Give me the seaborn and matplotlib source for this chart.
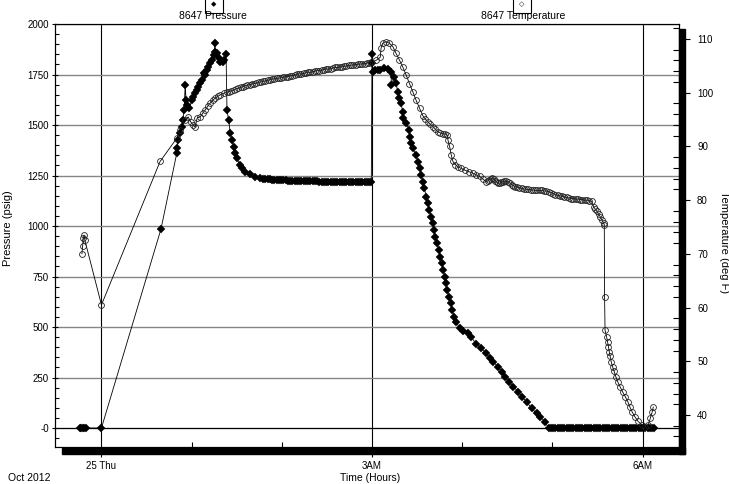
import matplotlib
matplotlib.use("Agg")
import matplotlib.pyplot as plt
from matplotlib.patches import Rectangle
from matplotlib.ticker import MultipleLocator
import seaborn as sns

# 8647 pressure / temperature log, Oct 25 2012 (time in minutes after midnight)
press_min = [-14.5, -13.5, -12.5, -11.5, -10.5, 0.0, 39.6,
             50.1, 50.1, 51.2, 52.3, 53.5, 54.1, 55.0, 55.7, 56.3, 57.2, 58.5, 60.1, 61.2,
             62.3, 63.5, 64.5, 65.7, 66.8, 67.9, 69.0, 70.2, 71.2, 72.4, 73.5, 74.6, 75.7,
             75.7, 76.8, 77.9, 79.0, 80.9, 81.7, 82.9,
             83.5, 84.6, 85.7, 86.9, 87.9, 89.1, 90.2, 91.9, 93.5, 95.8, 99.1, 102.4, 105.8,
             107.5, 109.0, 110.5, 112.0, 113.5, 115.0, 116.5, 118.0, 119.5, 121.0,
             122.5, 124.0, 125.5, 127.0, 128.5, 130.0, 131.5, 133.0, 134.5, 136.0,
             137.5, 139.0, 140.5, 142.0, 143.5, 145.0, 146.5, 148.0, 149.5, 151.0,
             152.5, 154.0, 155.5, 157.0, 158.5, 160.0, 161.5, 163.0, 164.5, 166.0,
             167.5, 169.0, 170.5, 172.0, 173.5, 175.0, 176.5, 178.0, 179.5,
             180.0, 180.2, 180.5, 182.3, 184.0, 185.6, 188.2, 190.4, 192.6, 192.9, 194.9,
             196.0, 197.1, 198.2, 199.3, 200.4, 200.5, 202.7, 204.9, 205.0, 206.0, 207.1,
             209.3, 210.5, 211.6, 212.7, 213.8, 214.9, 216.0, 217.2, 218.2, 219.4, 220.5,
             221.2, 222.0, 223.4, 224.3, 225.4, 226.5, 227.4, 228.3, 229.2, 230.1, 231.0,
             232.3, 233.2, 234.6, 236.1, 238.3, 240.6, 243.9, 246.1, 249.4, 252.8, 256.1,
             258.3, 260.6, 263.9, 266.2, 268.3, 271.0, 274.0, 277.3, 279.5, 282.8, 286.2,
             289.5, 291.7, 295.1, 297.4,
             298.9, 300.4, 301.9, 303.4, 304.9, 306.4, 307.9, 309.4, 310.9, 312.4,
             313.9, 315.4, 316.9, 318.4, 319.9, 321.4, 322.9, 324.4, 325.9, 327.4,
             328.9, 330.4, 331.9, 333.4, 334.9, 336.4, 337.9, 339.4, 340.9, 342.4,
             343.9, 345.4, 346.9, 348.4, 349.9, 351.4, 352.9, 354.4, 355.9, 357.4,
             358.9, 360.4, 361.9, 363.4, 364.9, 366.4, 367.9]
press_psig = [0, 0, 0, 0, 0, 0, 985,
              1360, 1384, 1426, 1459, 1492, 1525, 1574, 1698, 1624, 1599, 1582, 1624, 1640,
              1657, 1673, 1690, 1706, 1723, 1756, 1747, 1772, 1789, 1805, 1822, 1846, 1907,
              1863, 1855, 1830, 1813, 1813, 1822, 1850,
              1574, 1525, 1459, 1426, 1392, 1360, 1335, 1302, 1285, 1269, 1257, 1244, 1236,
              1234, 1233, 1232, 1231, 1230, 1229, 1228, 1228, 1227, 1226,
              1226, 1225, 1225, 1224, 1224, 1223, 1223, 1223, 1222, 1222,
              1222, 1221, 1221, 1221, 1221, 1220, 1220, 1220, 1220, 1220,
              1219, 1219, 1219, 1219, 1219, 1219, 1219, 1218, 1218, 1218,
              1218, 1218, 1218, 1218, 1218, 1218, 1218, 1218, 1218,
              1851, 1805, 1764, 1772, 1770, 1772, 1780, 1775, 1764, 1698, 1739,
              1706, 1665, 1632, 1607, 1566, 1533, 1508, 1475, 1442, 1409, 1384,
              1351, 1318, 1285, 1252, 1219, 1186, 1145, 1112, 1079, 1046, 1013,
              980, 947, 914, 881, 848, 815, 782, 749, 716, 683, 650,
              617, 584, 551, 526, 493, 482, 469, 449, 416, 394, 370,
              345, 328, 303, 279, 254, 229, 204, 180, 155, 130, 97,
              73, 56, 31, 0,
              0, 0, 0, 0, 0, 0, 0, 0, 0, 0,
              0, 0, 0, 0, 0, 0, 0, 0, 0, 0,
              0, 0, 0, 0, 0, 0, 0, 0, 0, 0,
              0, 0, 0, 0, 0, 0, 0, 0, 0, 0,
              0, 0, 0, 0, 0, 0, 0]

temp_min = [-13.0, -12.5, -12.0, -11.5, -11.0, 0.0, 39.0,
            50.3, 52.3, 55.7, 57.7, 59.3, 61.0, 62.3, 63.7, 65.7, 67.4, 69.0, 70.7, 72.4,
            74.0, 75.7, 77.4, 79.0, 81.4, 83.7,
            85.0, 86.5, 88.0, 89.5, 91.0, 92.5, 94.0, 95.5, 97.0, 98.5,
            100.0, 101.5, 103.0, 104.5, 106.0, 107.5, 109.0, 110.5, 112.0, 113.5,
            115.0, 116.5, 118.0, 119.5, 121.0, 122.5, 124.0, 125.5, 127.0, 128.5,
            130.0, 131.5, 133.0, 134.5, 136.0, 137.5, 139.0, 140.5, 142.0, 143.5,
            145.0, 146.5, 148.0, 149.5, 151.0, 152.5, 154.0, 155.5, 157.0, 158.5,
            160.0, 161.5, 163.0, 164.5, 166.0, 167.5, 169.0, 170.5, 172.0, 173.5,
            175.0, 176.5, 178.0, 179.5,
            182.6, 185.5, 186.0, 187.1, 189.3, 191.6, 193.8, 196.0, 198.2, 200.4, 202.7,
            204.9, 207.1, 209.3, 211.6, 213.8, 215.4, 217.1, 218.8, 220.5, 222.2, 223.8,
            225.5, 227.2, 228.7, 230.1, 230.5, 231.6, 232.7, 233.8, 235.5, 237.2, 239.4,
            241.6, 244.4, 247.2, 249.4, 251.6, 253.8,
            256.1, 257.0, 258.0, 259.0, 260.0, 261.0, 262.0, 263.0, 264.0, 265.0,
            266.0, 267.0, 268.0, 269.2, 270.5, 271.8, 273.0, 274.0, 275.0, 276.5,
            278.0, 279.5, 281.0, 282.5, 284.0, 285.5, 287.0, 288.5, 290.0, 291.5,
            293.0, 294.5, 296.0, 297.5, 299.0, 300.5, 302.0, 303.5, 305.0, 306.5,
            308.0, 309.5, 311.0, 312.5, 314.0, 315.5, 317.0, 318.5, 320.0, 321.5,
            323.0, 324.5, 326.0,
            327.4, 328.5, 329.6, 330.7, 331.8, 333.0, 334.1, 334.5,
            334.7, 335.0, 336.0, 336.7, 337.3, 337.8, 338.4, 339.1, 340.0, 341.1, 342.2,
            343.4, 344.9, 346.7, 348.5, 350.1, 351.5, 353.0, 354.8, 357.0, 359.7, 361.7,
            363.7, 365.1, 366.4, 367.1]
temp_degf = [70.0, 71.5, 73.0, 73.5, 72.5, 60.5, 87.2,
             91.6, 93.1, 94.9, 95.5, 94.6, 94.0, 93.6, 95.3, 95.5, 96.2, 96.8, 97.5, 98.1,
             98.6, 99.0, 99.3, 99.6, 99.9, 100.1,
             100.2, 100.4, 100.5, 100.7, 100.8, 101.0, 101.1, 101.3, 101.4, 101.5,
             101.6, 101.7, 101.8, 101.9, 102.0, 102.1, 102.2, 102.3, 102.4, 102.5,
             102.6, 102.7, 102.7, 102.8, 102.9, 103.0, 103.0, 103.1, 103.2, 103.3,
             103.4, 103.5, 103.5, 103.6, 103.7, 103.8, 103.8, 103.9, 104.0, 104.1,
             104.1, 104.2, 104.3, 104.4, 104.4, 104.5, 104.6, 104.7, 104.7, 104.8,
             104.8, 104.9, 105.0, 105.1, 105.1, 105.2, 105.2, 105.3, 105.3, 105.4,
             105.4, 105.5, 105.6, 105.7,
             106.0, 106.6, 108.3, 109.2, 109.5, 109.2, 108.6, 107.3, 106.1, 104.8, 103.3,
             101.7, 100.2, 98.6, 97.1, 95.7, 95.1, 94.6, 94.1, 93.7, 93.2, 92.7,
             92.5, 92.4, 92.3, 92.1, 91.2, 90.0, 88.4, 87.2, 86.6, 86.2, 85.9,
             85.6, 85.3, 85.0, 84.7, 84.4, 83.9,
             83.4, 83.6, 83.8, 84.0, 84.1, 83.9, 83.6, 83.3, 83.1, 83.2,
             83.3, 83.4, 83.5, 83.5, 83.4, 83.2, 82.9, 82.7, 82.5, 82.4,
             82.3, 82.2, 82.1, 82.0, 82.0, 81.9, 81.9, 81.8, 81.8, 81.8,
             81.8, 81.7, 81.7, 81.6, 81.4, 81.2, 81.0, 80.9, 80.8, 80.7,
             80.6, 80.5, 80.4, 80.3, 80.3, 80.2, 80.2, 80.1, 80.1, 80.0,
             80.0, 79.9, 79.8,
             78.8, 78.3, 77.9, 77.4, 76.9, 76.3, 75.7, 75.4,
             62.0, 55.8, 54.6, 53.6, 52.7, 51.8, 50.9, 49.9, 49.0, 48.1, 47.1,
             46.2, 45.3, 44.3, 43.4, 42.5, 41.5, 40.6, 39.7, 38.8, 38.1, 37.8,
             38.1, 39.4, 40.6, 41.5]

x_ticks = [0, 180, 360]
x_labels = ["25 Thu", "3AM", "6AM"]
p_ticks = [0, 250, 500, 750, 1000, 1250, 1500, 1750, 2000]
p_labels = ["-0", "250", "500", "750", "1000", "1250", "1500", "1750", "2000"]
t_ticks = [40, 50, 60, 70, 80, 90, 100, 110]

sns.set_style("ticks", {"axes.edgecolor": "black", "xtick.color": "black",
                        "ytick.color": "black", "text.color": "black"})
plt.rcParams["font.family"] = ["Liberation Sans Narrow", "Liberation Sans", "DejaVu Sans"]
plt.rcParams["font.size"] = 7

W, H = 729, 484
fig = plt.figure(figsize=(7.29, 4.84), dpi=100)
ax = fig.add_axes([55 / W, 37 / H, 624 / W, 423 / H])
ax2 = ax.twinx()

sns.lineplot(x=press_min, y=press_psig, ax=ax, sort=False, estimator=None,
             color="black", linewidth=0.6, marker="D", markersize=4,
             markeredgecolor="black", markerfacecolor="black", markeredgewidth=0.3)
sns.lineplot(x=temp_min, y=temp_degf, ax=ax2, sort=False, estimator=None,
             color="black", linewidth=0.6, marker="o", markersize=4.2,
             markeredgecolor="#222222", markerfacecolor="none", markeredgewidth=0.6)
ax2.lines[-1].set_markerfacecolor("none")

ax.set_xlim(-30.9, 384.2)
ax.set_ylim(-94, 2000)
ax2.set_ylim(34.04, 112.79)

ax.set_xticks(x_ticks)
ax.set_xticklabels(x_labels)
ax.set_xticks([60, 120, 240, 300], minor=True)
ax.set_yticks(p_ticks)
ax.set_yticklabels(p_labels)
ax.yaxis.set_minor_locator(MultipleLocator(50))
ax2.set_yticks(t_ticks)
ax2.yaxis.set_minor_locator(MultipleLocator(2))

ax.grid(axis="y", which="major", color="#858585", linewidth=1.0)
ax.grid(axis="x", which="major", color="black", linewidth=0.8)
ax.axhline(0, color="black", linewidth=0.8, zorder=1)
ax.set_xlabel("")
ax.set_ylabel("")
ax2.set_ylabel("")

ax.tick_params(axis="x", which="major", direction="out", length=7, width=0.8, pad=3)
ax.tick_params(axis="x", which="minor", direction="in", length=3.6, width=0.8)
ax.tick_params(axis="y", which="major", direction="inout", length=5, width=0.8, pad=2)
ax.tick_params(axis="y", which="minor", direction="in", length=3, width=0.8)
ax2.tick_params(axis="y", which="major", direction="out", length=8, width=0.8, pad=5)
ax2.tick_params(axis="y", which="minor", direction="in", length=4.3, width=0.8)
for a in (ax, ax2):
    for sp in a.spines.values():
        sp.set_visible(True)
        sp.set_linewidth(0.8)
        sp.set_color("black")

# drop shadow below and to the right of the plot frame
fig.add_artist(Rectangle((62 / W, (H - 454) / H), (685 - 62) / W, 6 / H,
                         transform=fig.transFigure, color="black", zorder=0.5))
fig.add_artist(Rectangle((679 / W, (H - 454) / H), 6 / W, (454 - 29) / H,
                         transform=fig.transFigure, color="black", zorder=0.5))

# axis titles
fig.text(8.5 / W, 1 - 228 / H, "Pressure (psig)", rotation=90, ha="center", va="center",
         fontsize=8, family=["Liberation Sans", "DejaVu Sans"])
fig.text(724 / W, 1 - 242 / H, "Temperature (deg F)", rotation=270, ha="center",
         va="center", fontsize=8, family=["Liberation Sans", "DejaVu Sans"])
fig.text(370 / W, 1 - 478 / H, "Time (Hours)", ha="center", va="center", fontsize=7.5)
fig.text(8 / W, 1 - 478 / H, "Oct 2012", ha="left", va="center", fontsize=7.5)

# series keys at the top
fig.text(214 / W, 1 - 4 / H, "\u25c6", ha="center", va="center", fontsize=5,
         family=["DejaVu Sans"],
         bbox=dict(boxstyle="square,pad=0.9", fc="white", ec="black", lw=0.8))
fig.text(213 / W, 1 - 16 / H, "8647 Pressure", ha="center", va="center", fontsize=7.5)
fig.text(522 / W, 1 - 4 / H, "\u25c7", ha="center", va="center", fontsize=5,
         family=["DejaVu Sans"],
         bbox=dict(boxstyle="square,pad=0.9", fc="white", ec="black", lw=0.8))
fig.text(523 / W, 1 - 16 / H, "8647 Temperature", ha="center", va="center", fontsize=7.5)

fig.savefig("out.png", dpi=100)
